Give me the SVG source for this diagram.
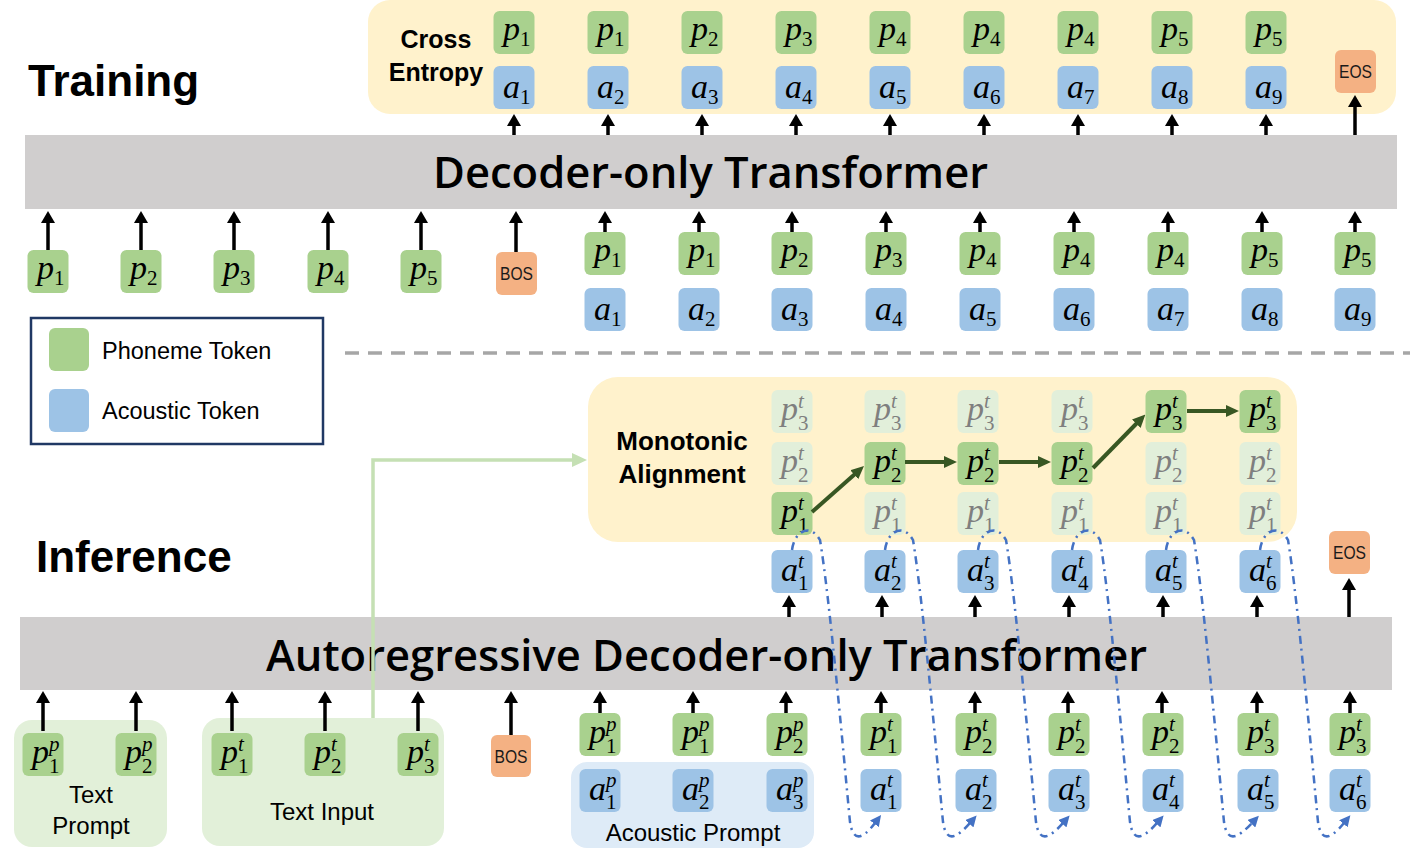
<svg xmlns="http://www.w3.org/2000/svg" width="1417" height="863" viewBox="0 0 1417 863">
<defs>
<style>
.g{fill:#a9d18e}.b{fill:#9dc3e6}.o{fill:#f4b183}.f{fill:#e2efda}
.m{font-family:"Liberation Serif",serif;font-style:italic;font-size:34px;fill:#000}
.fm{fill:#7f7f7f}
.s{font-size:21px;font-style:normal}
.u{font-size:21px;font-style:italic}
.lbl{font-family:"Liberation Sans",Arial,sans-serif;fill:#000}
.tag{font-family:"Liberation Sans",Arial,sans-serif;font-size:18px;fill:#1a1a1a;text-anchor:middle}
.ttl{font-family:"Liberation Sans",Arial,sans-serif;font-weight:bold;fill:#000}
.bar{font-family:"Open Sans","Liberation Sans",sans-serif;font-size:44px;font-weight:600;fill:#000;text-anchor:middle}
.arr{stroke:#000;stroke-width:3.5;fill:none}
.darr{stroke:#385723;stroke-width:4;fill:none}
.dd{stroke:#4472c4;stroke-width:2.5;fill:none;stroke-dasharray:8 5 2 5}
</style>
<marker id="ah" viewBox="0 0 12 14" refX="1" refY="7" markerWidth="12" markerHeight="14" orient="auto" markerUnits="userSpaceOnUse"><path d="M0,0L12,7L0,14z" fill="#000"/></marker>
<marker id="ag" viewBox="0 0 13 12" refX="1" refY="6" markerWidth="13" markerHeight="12" orient="auto" markerUnits="userSpaceOnUse"><path d="M0,0L13,6L0,12z" fill="#385723"/></marker>
<marker id="al" viewBox="0 0 15 14" refX="1" refY="7" markerWidth="15" markerHeight="14" orient="auto" markerUnits="userSpaceOnUse"><path d="M0,0L15,7L0,14z" fill="#c5e0b4"/></marker>
<marker id="ab" viewBox="0 0 11 11" refX="1" refY="5.5" markerWidth="11" markerHeight="11" orient="auto" markerUnits="userSpaceOnUse"><path d="M0,0L11,5.5L0,11z" fill="#4472c4"/></marker>
</defs>
<rect width="1417" height="863" fill="#fff"/>

<!-- Training section -->
<g id="training-title"><text class="ttl" x="28" y="96" font-size="44">Training</text></g>
<g id="cross-entropy-panel">
<rect x="368" y="0" width="1028" height="114" rx="22" fill="#fff2cc"/>
<text class="ttl" x="436" y="48" font-size="25" text-anchor="middle">Cross</text>
<text class="ttl" x="436" y="81" font-size="25" text-anchor="middle">Entropy</text>
</g>
<g id="train-out">
<g id="to1"><rect class="g" x="493.5" y="11" width="41" height="43" rx="6"/><text class="m" x="503" y="40">p<tspan class="s" dy="6">1</tspan></text><rect class="b" x="493.5" y="66" width="41" height="43" rx="6"/><text class="m" x="503" y="98">a<tspan class="s" dy="6">1</tspan></text></g>
<g id="to2"><rect class="g" x="587.5" y="11" width="41" height="43" rx="6"/><text class="m" x="597" y="40">p<tspan class="s" dy="6">1</tspan></text><rect class="b" x="587.5" y="66" width="41" height="43" rx="6"/><text class="m" x="597" y="98">a<tspan class="s" dy="6">2</tspan></text></g>
<g id="to3"><rect class="g" x="681.5" y="11" width="41" height="43" rx="6"/><text class="m" x="691" y="40">p<tspan class="s" dy="6">2</tspan></text><rect class="b" x="681.5" y="66" width="41" height="43" rx="6"/><text class="m" x="691" y="98">a<tspan class="s" dy="6">3</tspan></text></g>
<g id="to4"><rect class="g" x="775.5" y="11" width="41" height="43" rx="6"/><text class="m" x="785" y="40">p<tspan class="s" dy="6">3</tspan></text><rect class="b" x="775.5" y="66" width="41" height="43" rx="6"/><text class="m" x="785" y="98">a<tspan class="s" dy="6">4</tspan></text></g>
<g id="to5"><rect class="g" x="869.5" y="11" width="41" height="43" rx="6"/><text class="m" x="879" y="40">p<tspan class="s" dy="6">4</tspan></text><rect class="b" x="869.5" y="66" width="41" height="43" rx="6"/><text class="m" x="879" y="98">a<tspan class="s" dy="6">5</tspan></text></g>
<g id="to6"><rect class="g" x="963.5" y="11" width="41" height="43" rx="6"/><text class="m" x="973" y="40">p<tspan class="s" dy="6">4</tspan></text><rect class="b" x="963.5" y="66" width="41" height="43" rx="6"/><text class="m" x="973" y="98">a<tspan class="s" dy="6">6</tspan></text></g>
<g id="to7"><rect class="g" x="1057.5" y="11" width="41" height="43" rx="6"/><text class="m" x="1067" y="40">p<tspan class="s" dy="6">4</tspan></text><rect class="b" x="1057.5" y="66" width="41" height="43" rx="6"/><text class="m" x="1067" y="98">a<tspan class="s" dy="6">7</tspan></text></g>
<g id="to8"><rect class="g" x="1151.5" y="11" width="41" height="43" rx="6"/><text class="m" x="1161" y="40">p<tspan class="s" dy="6">5</tspan></text><rect class="b" x="1151.5" y="66" width="41" height="43" rx="6"/><text class="m" x="1161" y="98">a<tspan class="s" dy="6">8</tspan></text></g>
<g id="to9"><rect class="g" x="1245.5" y="11" width="41" height="43" rx="6"/><text class="m" x="1255" y="40">p<tspan class="s" dy="6">5</tspan></text><rect class="b" x="1245.5" y="66" width="41" height="43" rx="6"/><text class="m" x="1255" y="98">a<tspan class="s" dy="6">9</tspan></text></g>
<g id="train-eos"><rect class="o" x="1335" y="50" width="41" height="43" rx="6"/><text class="tag" x="1355.5" y="78" textLength="33" lengthAdjust="spacingAndGlyphs">EOS</text></g>
</g>
<g id="train-decoder"><rect x="25" y="135" width="1372" height="74" fill="#d0cece"/><text class="bar" x="710.5" y="188" textLength="555" lengthAdjust="spacingAndGlyphs">Decoder-only Transformer</text></g>
<g id="train-in-left">
<g id="ti1"><rect class="g" x="27.5" y="250" width="41" height="43" rx="6"/><text class="m" x="37" y="279">p<tspan class="s" dy="6">1</tspan></text></g>
<g id="ti2"><rect class="g" x="120.5" y="250" width="41" height="43" rx="6"/><text class="m" x="130" y="279">p<tspan class="s" dy="6">2</tspan></text></g>
<g id="ti3"><rect class="g" x="213.5" y="250" width="41" height="43" rx="6"/><text class="m" x="223" y="279">p<tspan class="s" dy="6">3</tspan></text></g>
<g id="ti4"><rect class="g" x="307.5" y="250" width="41" height="43" rx="6"/><text class="m" x="317" y="279">p<tspan class="s" dy="6">4</tspan></text></g>
<g id="ti5"><rect class="g" x="400.5" y="250" width="41" height="43" rx="6"/><text class="m" x="410" y="279">p<tspan class="s" dy="6">5</tspan></text></g>
<g id="train-bos"><rect class="o" x="496" y="252" width="41" height="43" rx="6"/><text class="tag" x="516.5" y="280" textLength="33" lengthAdjust="spacingAndGlyphs">BOS</text></g>
</g>
<g id="train-in-right">
<g id="tr1"><rect class="g" x="584.5" y="232" width="41" height="43" rx="6"/><text class="m" x="594" y="261">p<tspan class="s" dy="6">1</tspan></text><rect class="b" x="584.5" y="288" width="41" height="43" rx="6"/><text class="m" x="594" y="320">a<tspan class="s" dy="6">1</tspan></text></g>
<g id="tr2"><rect class="g" x="678.5" y="232" width="41" height="43" rx="6"/><text class="m" x="688" y="261">p<tspan class="s" dy="6">1</tspan></text><rect class="b" x="678.5" y="288" width="41" height="43" rx="6"/><text class="m" x="688" y="320">a<tspan class="s" dy="6">2</tspan></text></g>
<g id="tr3"><rect class="g" x="771.5" y="232" width="41" height="43" rx="6"/><text class="m" x="781" y="261">p<tspan class="s" dy="6">2</tspan></text><rect class="b" x="771.5" y="288" width="41" height="43" rx="6"/><text class="m" x="781" y="320">a<tspan class="s" dy="6">3</tspan></text></g>
<g id="tr4"><rect class="g" x="865.5" y="232" width="41" height="43" rx="6"/><text class="m" x="875" y="261">p<tspan class="s" dy="6">3</tspan></text><rect class="b" x="865.5" y="288" width="41" height="43" rx="6"/><text class="m" x="875" y="320">a<tspan class="s" dy="6">4</tspan></text></g>
<g id="tr5"><rect class="g" x="959.5" y="232" width="41" height="43" rx="6"/><text class="m" x="969" y="261">p<tspan class="s" dy="6">4</tspan></text><rect class="b" x="959.5" y="288" width="41" height="43" rx="6"/><text class="m" x="969" y="320">a<tspan class="s" dy="6">5</tspan></text></g>
<g id="tr6"><rect class="g" x="1053.5" y="232" width="41" height="43" rx="6"/><text class="m" x="1063" y="261">p<tspan class="s" dy="6">4</tspan></text><rect class="b" x="1053.5" y="288" width="41" height="43" rx="6"/><text class="m" x="1063" y="320">a<tspan class="s" dy="6">6</tspan></text></g>
<g id="tr7"><rect class="g" x="1147.5" y="232" width="41" height="43" rx="6"/><text class="m" x="1157" y="261">p<tspan class="s" dy="6">4</tspan></text><rect class="b" x="1147.5" y="288" width="41" height="43" rx="6"/><text class="m" x="1157" y="320">a<tspan class="s" dy="6">7</tspan></text></g>
<g id="tr8"><rect class="g" x="1241.5" y="232" width="41" height="43" rx="6"/><text class="m" x="1251" y="261">p<tspan class="s" dy="6">5</tspan></text><rect class="b" x="1241.5" y="288" width="41" height="43" rx="6"/><text class="m" x="1251" y="320">a<tspan class="s" dy="6">8</tspan></text></g>
<g id="tr9"><rect class="g" x="1334.5" y="232" width="41" height="43" rx="6"/><text class="m" x="1344" y="261">p<tspan class="s" dy="6">5</tspan></text><rect class="b" x="1334.5" y="288" width="41" height="43" rx="6"/><text class="m" x="1344" y="320">a<tspan class="s" dy="6">9</tspan></text></g>
</g>

<g id="legend">
<rect x="31" y="318" width="292" height="126" fill="#fff" stroke="#203864" stroke-width="2.5"/>
<rect class="g" x="49" y="328" width="40" height="43" rx="6"/>
<text class="lbl" x="102" y="359" font-size="23.5">Phoneme Token</text>
<rect class="b" x="49" y="389" width="40" height="43" rx="6"/>
<text class="lbl" x="102" y="419" font-size="23.5">Acoustic Token</text>
</g>
<g id="separator"><path d="M345,353H1410" stroke="#a6a6a6" stroke-width="3.5" stroke-dasharray="14 9"/></g>

<!-- Inference section -->
<g id="inference-title"><text class="ttl" x="36" y="572" font-size="44">Inference</text></g>
<g id="alignment-panel">
<rect x="588" y="377" width="709" height="165" rx="30" fill="#fff2cc"/>
<text class="ttl" x="682" y="450" font-size="26" text-anchor="middle">Monotonic</text>
<text class="ttl" x="682" y="483" font-size="26" text-anchor="middle">Alignment</text>
</g>
<g id="align-grid">
<g id="ac1">
<rect class="f" x="771.5" y="390" width="41" height="43" rx="6"/><text class="m fm" x="781" y="420">p<tspan class="u" x="798" dy="-12">t</tspan><tspan class="s" x="798" dy="22">3</tspan></text>
<rect class="f" x="771.5" y="442" width="41" height="43" rx="6"/><text class="m fm" x="781" y="472">p<tspan class="u" x="798" dy="-12">t</tspan><tspan class="s" x="798" dy="22">2</tspan></text>
<rect class="g" x="771.5" y="492" width="41" height="43" rx="6"/><text class="m" x="781" y="522">p<tspan class="u" x="798" dy="-12">t</tspan><tspan class="s" x="798" dy="22">1</tspan></text>
</g>
<g id="ac2">
<rect class="f" x="864.5" y="390" width="41" height="43" rx="6"/><text class="m fm" x="874" y="420">p<tspan class="u" x="891" dy="-12">t</tspan><tspan class="s" x="891" dy="22">3</tspan></text>
<rect class="g" x="864.5" y="442" width="41" height="43" rx="6"/><text class="m" x="874" y="472">p<tspan class="u" x="891" dy="-12">t</tspan><tspan class="s" x="891" dy="22">2</tspan></text>
<rect class="f" x="864.5" y="492" width="41" height="43" rx="6"/><text class="m fm" x="874" y="522">p<tspan class="u" x="891" dy="-12">t</tspan><tspan class="s" x="891" dy="22">1</tspan></text>
</g>
<g id="ac3">
<rect class="f" x="957.5" y="390" width="41" height="43" rx="6"/><text class="m fm" x="967" y="420">p<tspan class="u" x="984" dy="-12">t</tspan><tspan class="s" x="984" dy="22">3</tspan></text>
<rect class="g" x="957.5" y="442" width="41" height="43" rx="6"/><text class="m" x="967" y="472">p<tspan class="u" x="984" dy="-12">t</tspan><tspan class="s" x="984" dy="22">2</tspan></text>
<rect class="f" x="957.5" y="492" width="41" height="43" rx="6"/><text class="m fm" x="967" y="522">p<tspan class="u" x="984" dy="-12">t</tspan><tspan class="s" x="984" dy="22">1</tspan></text>
</g>
<g id="ac4">
<rect class="f" x="1051.5" y="390" width="41" height="43" rx="6"/><text class="m fm" x="1061" y="420">p<tspan class="u" x="1078" dy="-12">t</tspan><tspan class="s" x="1078" dy="22">3</tspan></text>
<rect class="g" x="1051.5" y="442" width="41" height="43" rx="6"/><text class="m" x="1061" y="472">p<tspan class="u" x="1078" dy="-12">t</tspan><tspan class="s" x="1078" dy="22">2</tspan></text>
<rect class="f" x="1051.5" y="492" width="41" height="43" rx="6"/><text class="m fm" x="1061" y="522">p<tspan class="u" x="1078" dy="-12">t</tspan><tspan class="s" x="1078" dy="22">1</tspan></text>
</g>
<g id="ac5">
<rect class="g" x="1145.5" y="390" width="41" height="43" rx="6"/><text class="m" x="1155" y="420">p<tspan class="u" x="1172" dy="-12">t</tspan><tspan class="s" x="1172" dy="22">3</tspan></text>
<rect class="f" x="1145.5" y="442" width="41" height="43" rx="6"/><text class="m fm" x="1155" y="472">p<tspan class="u" x="1172" dy="-12">t</tspan><tspan class="s" x="1172" dy="22">2</tspan></text>
<rect class="f" x="1145.5" y="492" width="41" height="43" rx="6"/><text class="m fm" x="1155" y="522">p<tspan class="u" x="1172" dy="-12">t</tspan><tspan class="s" x="1172" dy="22">1</tspan></text>
</g>
<g id="ac6">
<rect class="g" x="1239.5" y="390" width="41" height="43" rx="6"/><text class="m" x="1249" y="420">p<tspan class="u" x="1266" dy="-12">t</tspan><tspan class="s" x="1266" dy="22">3</tspan></text>
<rect class="f" x="1239.5" y="442" width="41" height="43" rx="6"/><text class="m fm" x="1249" y="472">p<tspan class="u" x="1266" dy="-12">t</tspan><tspan class="s" x="1266" dy="22">2</tspan></text>
<rect class="f" x="1239.5" y="492" width="41" height="43" rx="6"/><text class="m fm" x="1249" y="522">p<tspan class="u" x="1266" dy="-12">t</tspan><tspan class="s" x="1266" dy="22">1</tspan></text>
</g>
</g>
<g id="inf-out">
<g id="io1"><rect class="b" x="771.5" y="550" width="41" height="43" rx="6"/><text class="m" x="781" y="581">a<tspan class="u" x="798" dy="-13">t</tspan><tspan class="s" x="798" dy="22">1</tspan></text></g>
<g id="io2"><rect class="b" x="864.5" y="550" width="41" height="43" rx="6"/><text class="m" x="874" y="581">a<tspan class="u" x="891" dy="-13">t</tspan><tspan class="s" x="891" dy="22">2</tspan></text></g>
<g id="io3"><rect class="b" x="957.5" y="550" width="41" height="43" rx="6"/><text class="m" x="967" y="581">a<tspan class="u" x="984" dy="-13">t</tspan><tspan class="s" x="984" dy="22">3</tspan></text></g>
<g id="io4"><rect class="b" x="1051.5" y="550" width="41" height="43" rx="6"/><text class="m" x="1061" y="581">a<tspan class="u" x="1078" dy="-13">t</tspan><tspan class="s" x="1078" dy="22">4</tspan></text></g>
<g id="io5"><rect class="b" x="1145.5" y="550" width="41" height="43" rx="6"/><text class="m" x="1155" y="581">a<tspan class="u" x="1172" dy="-13">t</tspan><tspan class="s" x="1172" dy="22">5</tspan></text></g>
<g id="io6"><rect class="b" x="1239.5" y="550" width="41" height="43" rx="6"/><text class="m" x="1249" y="581">a<tspan class="u" x="1266" dy="-13">t</tspan><tspan class="s" x="1266" dy="22">6</tspan></text></g>
<g id="inf-eos"><rect class="o" x="1329" y="531" width="41" height="43" rx="6"/><text class="tag" x="1349.5" y="559" textLength="33" lengthAdjust="spacingAndGlyphs">EOS</text></g>
</g>
<g id="inf-decoder"><rect x="20" y="617" width="1372" height="73" fill="#d0cece"/><text class="bar" x="706.5" y="671" textLength="881" lengthAdjust="spacingAndGlyphs">Autoregressive Decoder-only Transformer</text></g>

<g id="text-prompt">
<rect x="14" y="720" width="153" height="127" rx="18" fill="#e2f0d9"/>
<rect class="g" x="22.5" y="733" width="41" height="43" rx="6"/><text class="m" x="32" y="763">p<tspan class="u" x="49" dy="-12">p</tspan><tspan class="s" x="49" dy="22">1</tspan></text>
<rect class="g" x="115.5" y="733" width="41" height="43" rx="6"/><text class="m" x="125" y="763">p<tspan class="u" x="142" dy="-12">p</tspan><tspan class="s" x="142" dy="22">2</tspan></text>
<text class="lbl" x="91" y="803" font-size="24" text-anchor="middle">Text</text>
<text class="lbl" x="91" y="834" font-size="24" text-anchor="middle">Prompt</text>
</g>
<g id="text-input">
<rect x="202" y="718" width="242" height="128" rx="18" fill="#e2f0d9"/>
<rect class="g" x="211.5" y="733" width="41" height="43" rx="6"/><text class="m" x="221" y="763">p<tspan class="u" x="238" dy="-12">t</tspan><tspan class="s" x="238" dy="22">1</tspan></text>
<rect class="g" x="304.5" y="733" width="41" height="43" rx="6"/><text class="m" x="314" y="763">p<tspan class="u" x="331" dy="-12">t</tspan><tspan class="s" x="331" dy="22">2</tspan></text>
<rect class="g" x="397.5" y="733" width="41" height="43" rx="6"/><text class="m" x="407" y="763">p<tspan class="u" x="424" dy="-12">t</tspan><tspan class="s" x="424" dy="22">3</tspan></text>
<text class="lbl" x="322" y="820" font-size="24" text-anchor="middle">Text Input</text>
</g>
<g id="inf-bos"><rect class="o" x="491" y="735" width="40" height="42" rx="6"/><text class="tag" x="511" y="763" textLength="33" lengthAdjust="spacingAndGlyphs">BOS</text></g>
<g id="acoustic-prompt">
<rect x="571" y="762" width="243" height="86" rx="16" fill="#deebf7"/>
<rect class="b" x="579.5" y="769" width="41" height="43" rx="6"/><text class="m" x="589" y="800">a<tspan class="u" x="606" dy="-13">p</tspan><tspan class="s" x="606" dy="22">1</tspan></text>
<rect class="b" x="672.5" y="769" width="41" height="43" rx="6"/><text class="m" x="682" y="800">a<tspan class="u" x="699" dy="-13">p</tspan><tspan class="s" x="699" dy="22">2</tspan></text>
<rect class="b" x="766.5" y="769" width="41" height="43" rx="6"/><text class="m" x="776" y="800">a<tspan class="u" x="793" dy="-13">p</tspan><tspan class="s" x="793" dy="22">3</tspan></text>
<text class="lbl" x="693" y="841" font-size="24" text-anchor="middle">Acoustic Prompt</text>
</g>
<g id="prompt-phonemes">
<rect class="g" x="579.5" y="713" width="41" height="43" rx="6"/><text class="m" x="589" y="743">p<tspan class="u" x="606" dy="-12">p</tspan><tspan class="s" x="606" dy="22">1</tspan></text>
<rect class="g" x="672.5" y="713" width="41" height="43" rx="6"/><text class="m" x="682" y="743">p<tspan class="u" x="699" dy="-12">p</tspan><tspan class="s" x="699" dy="22">1</tspan></text>
<rect class="g" x="766.5" y="713" width="41" height="43" rx="6"/><text class="m" x="776" y="743">p<tspan class="u" x="793" dy="-12">p</tspan><tspan class="s" x="793" dy="22">2</tspan></text>
</g>
<g id="inf-in">
<g id="ii1"><rect class="g" x="860.5" y="713" width="41" height="43" rx="6"/><text class="m" x="870" y="743">p<tspan class="u" x="887" dy="-12">t</tspan><tspan class="s" x="887" dy="22">1</tspan></text><rect class="b" x="860.5" y="769" width="41" height="43" rx="6"/><text class="m" x="870" y="800">a<tspan class="u" x="887" dy="-13">t</tspan><tspan class="s" x="887" dy="22">1</tspan></text></g>
<g id="ii2"><rect class="g" x="955.5" y="713" width="41" height="43" rx="6"/><text class="m" x="965" y="743">p<tspan class="u" x="982" dy="-12">t</tspan><tspan class="s" x="982" dy="22">2</tspan></text><rect class="b" x="955.5" y="769" width="41" height="43" rx="6"/><text class="m" x="965" y="800">a<tspan class="u" x="982" dy="-13">t</tspan><tspan class="s" x="982" dy="22">2</tspan></text></g>
<g id="ii3"><rect class="g" x="1048.5" y="713" width="41" height="43" rx="6"/><text class="m" x="1058" y="743">p<tspan class="u" x="1075" dy="-12">t</tspan><tspan class="s" x="1075" dy="22">2</tspan></text><rect class="b" x="1048.5" y="769" width="41" height="43" rx="6"/><text class="m" x="1058" y="800">a<tspan class="u" x="1075" dy="-13">t</tspan><tspan class="s" x="1075" dy="22">3</tspan></text></g>
<g id="ii4"><rect class="g" x="1142.5" y="713" width="41" height="43" rx="6"/><text class="m" x="1152" y="743">p<tspan class="u" x="1169" dy="-12">t</tspan><tspan class="s" x="1169" dy="22">2</tspan></text><rect class="b" x="1142.5" y="769" width="41" height="43" rx="6"/><text class="m" x="1152" y="800">a<tspan class="u" x="1169" dy="-13">t</tspan><tspan class="s" x="1169" dy="22">4</tspan></text></g>
<g id="ii5"><rect class="g" x="1237.5" y="713" width="41" height="43" rx="6"/><text class="m" x="1247" y="743">p<tspan class="u" x="1264" dy="-12">t</tspan><tspan class="s" x="1264" dy="22">3</tspan></text><rect class="b" x="1237.5" y="769" width="41" height="43" rx="6"/><text class="m" x="1247" y="800">a<tspan class="u" x="1264" dy="-13">t</tspan><tspan class="s" x="1264" dy="22">5</tspan></text></g>
<g id="ii6"><rect class="g" x="1329.5" y="713" width="41" height="43" rx="6"/><text class="m" x="1339" y="743">p<tspan class="u" x="1356" dy="-12">t</tspan><tspan class="s" x="1356" dy="22">3</tspan></text><rect class="b" x="1329.5" y="769" width="41" height="43" rx="6"/><text class="m" x="1339" y="800">a<tspan class="u" x="1356" dy="-13">t</tspan><tspan class="s" x="1356" dy="22">6</tspan></text></g>
</g>

<g id="connectors">
<g class="arr">
<path d="M514,135V125" marker-end="url(#ah)"/><path d="M608,135V125" marker-end="url(#ah)"/><path d="M702,135V125" marker-end="url(#ah)"/><path d="M796,135V125" marker-end="url(#ah)"/><path d="M890,135V125" marker-end="url(#ah)"/><path d="M984,135V125" marker-end="url(#ah)"/><path d="M1078,135V125" marker-end="url(#ah)"/><path d="M1172,135V125" marker-end="url(#ah)"/><path d="M1266,135V125" marker-end="url(#ah)"/><path d="M1355,135V106" marker-end="url(#ah)"/>
<path d="M48,250V222" marker-end="url(#ah)"/><path d="M141,250V222" marker-end="url(#ah)"/><path d="M234,250V222" marker-end="url(#ah)"/><path d="M328,250V222" marker-end="url(#ah)"/><path d="M421,250V222" marker-end="url(#ah)"/><path d="M516,252V222" marker-end="url(#ah)"/>
<path d="M605,232V222" marker-end="url(#ah)"/><path d="M699,232V222" marker-end="url(#ah)"/><path d="M792,232V222" marker-end="url(#ah)"/><path d="M886,232V222" marker-end="url(#ah)"/><path d="M980,232V222" marker-end="url(#ah)"/><path d="M1074,232V222" marker-end="url(#ah)"/><path d="M1168,232V222" marker-end="url(#ah)"/><path d="M1262,232V222" marker-end="url(#ah)"/><path d="M1355,232V222" marker-end="url(#ah)"/>
<path d="M789,617V606" marker-end="url(#ah)"/><path d="M882,617V606" marker-end="url(#ah)"/><path d="M975,617V606" marker-end="url(#ah)"/><path d="M1069,617V606" marker-end="url(#ah)"/><path d="M1163,617V606" marker-end="url(#ah)"/><path d="M1257,617V606" marker-end="url(#ah)"/><path d="M1349,617V589" marker-end="url(#ah)"/>
<path d="M43,731V702" marker-end="url(#ah)"/><path d="M136,731V702" marker-end="url(#ah)"/><path d="M232,731V702" marker-end="url(#ah)"/><path d="M325,731V702" marker-end="url(#ah)"/><path d="M418,731V702" marker-end="url(#ah)"/><path d="M511,735V702" marker-end="url(#ah)"/>
<path d="M600,713V702" marker-end="url(#ah)"/><path d="M693,713V702" marker-end="url(#ah)"/><path d="M786,713V702" marker-end="url(#ah)"/><path d="M881,713V702" marker-end="url(#ah)"/><path d="M975,713V702" marker-end="url(#ah)"/><path d="M1068,713V702" marker-end="url(#ah)"/><path d="M1162,713V702" marker-end="url(#ah)"/><path d="M1257,713V702" marker-end="url(#ah)"/><path d="M1350,713V702" marker-end="url(#ah)"/>
</g>
<path d="M373,718V460H573" fill="none" stroke="#c5e0b4" stroke-width="3.5" marker-end="url(#al)"/>
<path class="darr" d="M812,512L855,474" marker-end="url(#ag)"/>
<path class="darr" d="M905,462H945" marker-end="url(#ag)"/>
<path class="darr" d="M999,462H1039" marker-end="url(#ag)"/>
<path class="darr" d="M1093,468L1137,423" marker-end="url(#ag)"/>
<path class="darr" d="M1187,411H1227" marker-end="url(#ag)"/>
<path class="dd" d="M792,550C794,532 810,522 820,540C830,600 844,760 850,822C853,842 862,840 875,823" marker-end="url(#ab)"/>
<path class="dd" d="M885,550C887,532 903,522 913,540C923,600 937,760 943,822C946,842 955,840 970,823" marker-end="url(#ab)"/>
<path class="dd" d="M978,550C980,532 996,522 1006,540C1016,600 1030,760 1036,822C1039,842 1048,840 1063,823" marker-end="url(#ab)"/>
<path class="dd" d="M1072,550C1074,532 1090,522 1100,540C1110,600 1124,760 1130,822C1133,842 1142,840 1157,823" marker-end="url(#ab)"/>
<path class="dd" d="M1166,550C1168,532 1184,522 1194,540C1204,600 1218,760 1224,822C1227,842 1236,840 1252,823" marker-end="url(#ab)"/>
<path class="dd" d="M1260,550C1262,532 1278,522 1288,540C1298,600 1312,760 1318,822C1321,842 1330,840 1344,823" marker-end="url(#ab)"/>
</g>
</svg>
